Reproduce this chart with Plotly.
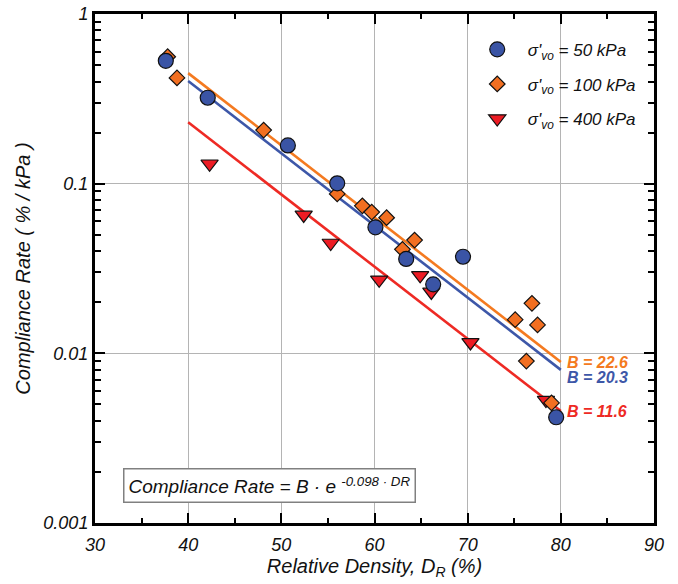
import numpy as np
import plotly.graph_objects as go

# Relative density (%) and compliance rate (%/kPa) for each effective vertical stress
dr_50 = [37.6, 42.1, 50.7, 56.0, 60.1, 63.4, 66.3, 69.5, 79.5]
cr_50 = [0.53, 0.321, 0.168, 0.1005, 0.0553, 0.036, 0.0255, 0.0371, 0.0042]

dr_100 = [37.8, 38.8, 48.1, 56.0, 58.7, 59.7, 61.3, 63.0, 64.3, 75.1, 76.3, 76.9, 77.5, 79.0]
cr_100 = [0.56, 0.42, 0.207, 0.087, 0.074, 0.068, 0.063, 0.041, 0.0465, 0.0158, 0.0090, 0.0197, 0.0147, 0.0051]

dr_400 = [42.3, 52.4, 55.3, 60.5, 64.9, 66.1, 70.3, 78.4]
cr_400 = [0.131, 0.0654, 0.0447, 0.0271, 0.0288, 0.023, 0.0116, 0.0053]

# Fitted coefficients: Compliance Rate = B * exp(-0.098 * DR)
fit_B = [20.3, 22.6, 11.6]
fit_exponent = -0.098
fit_dr_range = [40, 80]

series_names = ["σ'<sub>vo</sub> = 50 kPa", "σ'<sub>vo</sub> = 100 kPa", "σ'<sub>vo</sub> = 400 kPa"]
marker_colors = ["#3a54a5", "#f26f21", "#ed1c24"]
line_colors = ["#3d57a8", "#f47a20", "#ee2a24"]
symbols = ["circle", "diamond", "triangle-down"]
sizes = [15, 12, 15]

FONT = "Liberation Sans, Arial, sans-serif"

fig = go.Figure()

# fitted trend lines
dr_fit = np.linspace(fit_dr_range[0], fit_dr_range[1], 50)
for idx in [1, 0, 2]:
    fig.add_trace(go.Scatter(
        x=dr_fit, y=fit_B[idx] * np.exp(fit_exponent * dr_fit), mode="lines",
        line=dict(color=line_colors[idx], width=2.6), showlegend=False, hoverinfo="skip"))

# measured points (drawn 400 -> 100 -> 50 so circles sit on top)
data = [(dr_50, cr_50), (dr_100, cr_100), (dr_400, cr_400)]
for i in [2, 1, 0]:
    xs, ys = data[i]
    fig.add_trace(go.Scatter(
        x=xs, y=ys, mode="markers", name=series_names[i],
        legendgroup=str(i), legendrank=i + 1,
        marker=dict(symbol=symbols[i], size=sizes[i], color=marker_colors[i],
                    line=dict(color="#111111", width=1.2))))

# B labels at the end of each fit line
label_y = [0.00716, 0.00878, 0.00452]
for B, col, ly in zip(fit_B, line_colors, label_y):
    fig.add_annotation(x=80.4, y=np.log10(ly), xref="x", yref="y",
                       text=f"<b><i>B = {B}</i></b>", showarrow=False,
                       xanchor="left", yanchor="middle",
                       font=dict(family=FONT, size=16, color=col))

# equation box
fig.add_annotation(x=48.7, y=-2.781, xref="x", yref="y",
                   text="Compliance Rate = B · e <sup>-0.098 · DR</sup>",
                   showarrow=False, xanchor="center", yanchor="middle",
                   font=dict(family=FONT, size=19, color="#111111", style="italic"),
                   bgcolor="white", bordercolor="#808080", borderwidth=1.5, borderpad=4)

axis_common = dict(
    showline=True, linecolor="black", linewidth=3, mirror="ticks",
    ticks="inside", tickcolor="black", tickwidth=2, ticklen=10,
    showgrid=True, gridcolor="#b4b4b4", gridwidth=1, zeroline=False,
    automargin=False,
    tickfont=dict(family=FONT, size=18, color="#111111", style="italic"),
)

fig.update_xaxes(
    range=[30, 90], dtick=10, tick0=30,
    minor=dict(ticks="inside", ticklen=5, tickwidth=2, tickcolor="black", dtick=5, showgrid=False),
    ticklabelstandoff=3,
    title=dict(text="Relative Density, D<sub>R</sub> (%)", standoff=4,
               font=dict(family=FONT, size=20, color="#111111", style="italic")),
    **axis_common)

fig.update_yaxes(
    type="log", range=[-3, 0], dtick=1,
    tickvals=[0.001, 0.01, 0.1, 1], ticktext=["0.001", "0.01", "0.1", "1"],
    minor=dict(ticks="inside", ticklen=6, tickwidth=2, tickcolor="black", dtick="D1", showgrid=False),
    ticklabelstandoff=0,
    title=dict(text="Compliance Rate ( % / kPa )", standoff=8,
               font=dict(family=FONT, size=20, color="#111111", style="italic")),
    **axis_common)

fig.update_layout(
    width=678, height=584,
    margin=dict(l=95, r=24, t=14, b=61),
    plot_bgcolor="white", paper_bgcolor="white",
    font=dict(family=FONT, color="#111111"),
    legend=dict(x=0.665, y=0.965, xanchor="left", yanchor="top",
                bgcolor="rgba(0,0,0,0)", borderwidth=0,
                itemwidth=51, tracegroupgap=9.5, traceorder="grouped",
                font=dict(family=FONT, size=17, color="#111111", style="italic")),
)

fig.write_html("out.html")
